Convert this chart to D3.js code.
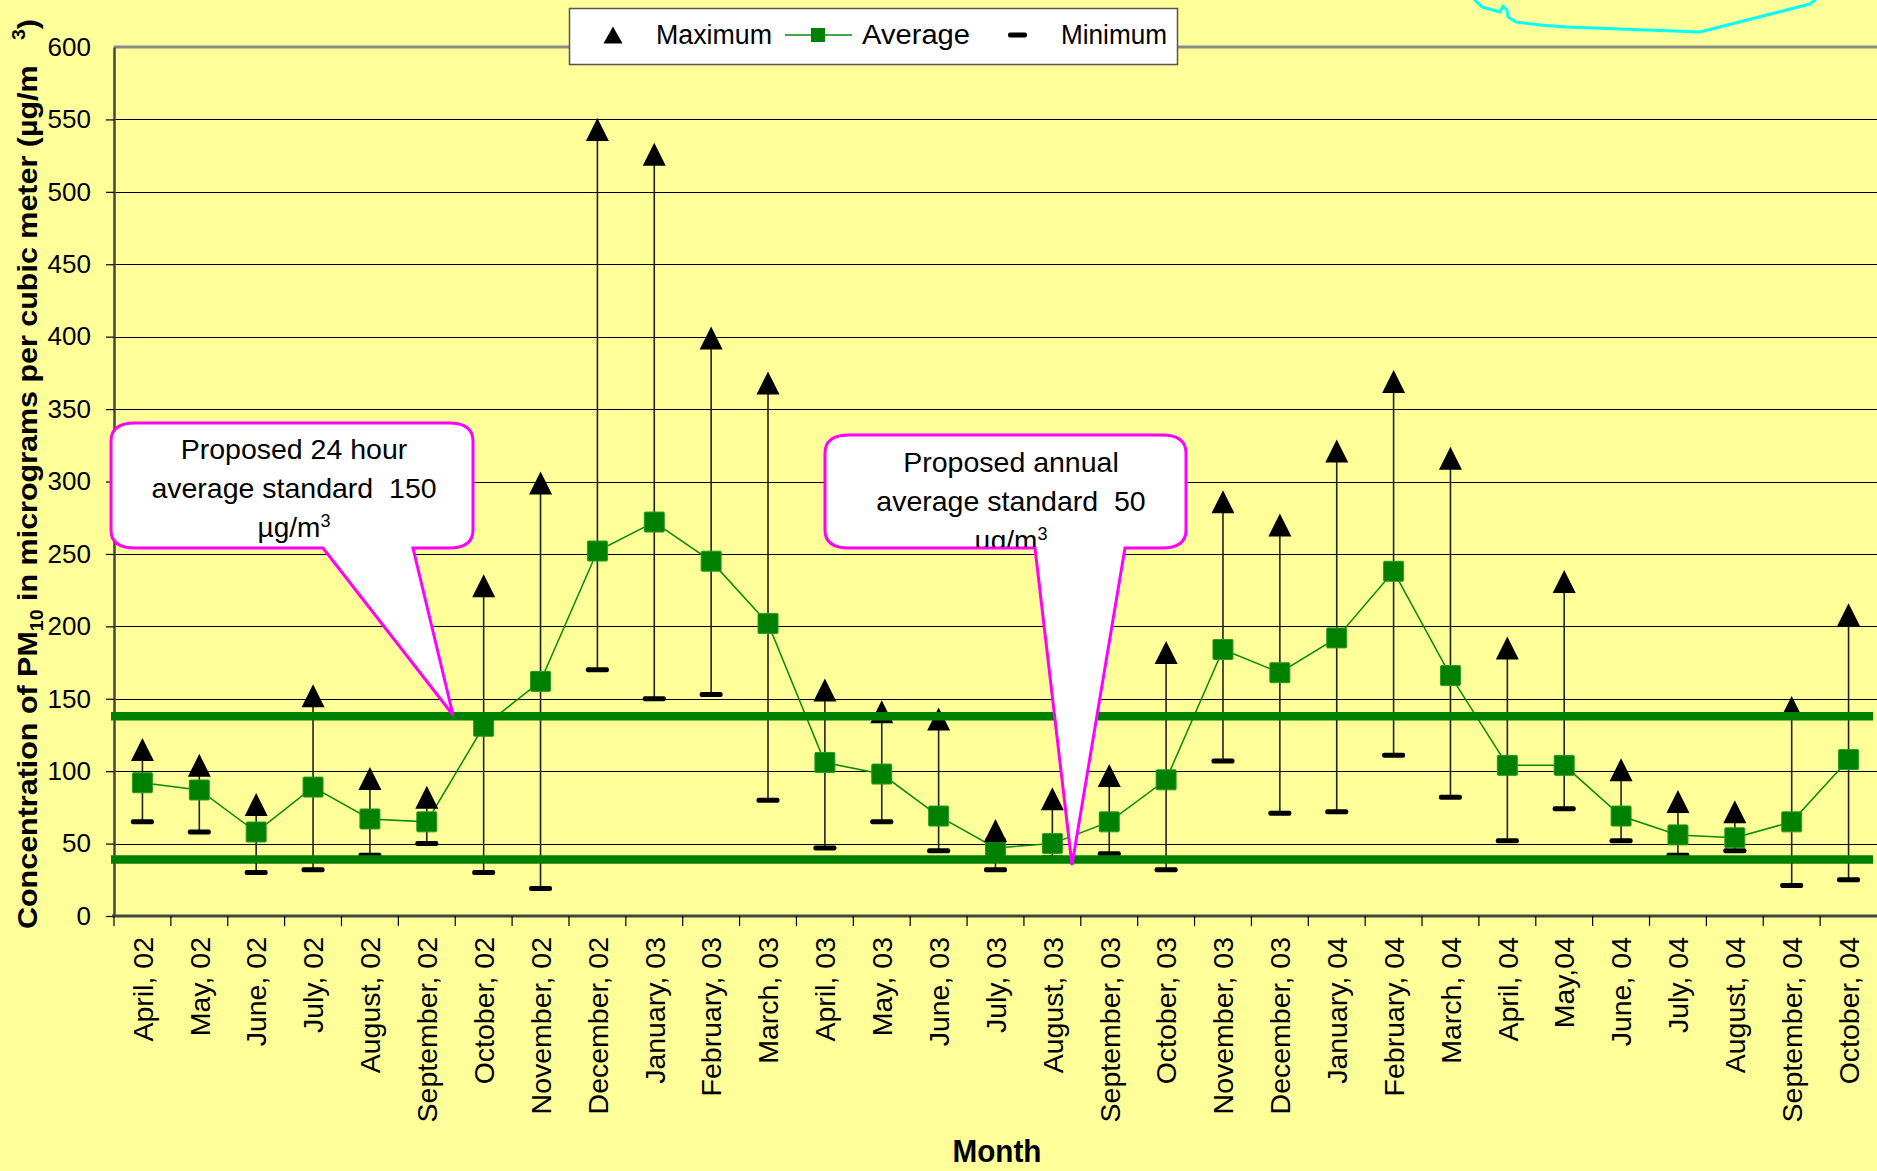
<!DOCTYPE html>
<html>
<head>
<meta charset="utf-8">
<script src="https://cdn.jsdelivr.net/npm/d3@7"></script>
<style>
  html, body { margin: 0; padding: 0; background: #FFFF99; }
  svg { display: block; }
  text { font-family: "Liberation Sans", Arial, sans-serif; fill: #000; }
  .narrow { font-family: "Liberation Sans Narrow", "Arial Narrow", "Liberation Sans", Arial, sans-serif; font-weight: bold; }
</style>
</head>
<body>
<svg id="chart" width="1877" height="1171"></svg>
<script>
// Monthly PM10 concentrations, April 2002 – October 2004 (µg/m³)
const months = [
  "April, 02", "May, 02", "June, 02", "July, 02", "August, 02", "September, 02",
  "October, 02", "November, 02", "December, 02", "January, 03", "February, 03",
  "March, 03", "April, 03", "May, 03", "June, 03", "July, 03", "August, 03",
  "September, 03", "October, 03", "November, 03", "December, 03", "January, 04",
  "February, 04", "March, 04", "April, 04", "May,04", "June, 04", "July, 04",
  "August, 04", "September, 04", "October, 04"
];
const maximum = [115, 104, 77, 152, 95, 82, 228, 299, 543, 526, 399, 368, 156, 141, 136, 59,
                 81, 97, 182, 286, 270, 321, 369, 316, 185, 231, 101, 79, 72, 144, 208];
const average = [92, 87, 58, 89, 67, 65, 131, 162, 252, 272, 245, 202, 106, 98, 69, 47,
                 50, 65, 94, 184, 168, 192, 238, 166, 104, 104, 69, 56, 54, 65, 108];
const minimum = [65, 58, 30, 32, 42, 50, 30, 19, 170, 150, 153, 80, 47, 65, 45, 32,
                 40, 43, 32, 107, 71, 72, 111, 82, 52, 74, 52, 42, 45, 21, 25];
const yTicks = [0, 50, 100, 150, 200, 250, 300, 350, 400, 450, 500, 550, 600];
// reference lines drawn across the plot for the proposed standards
const standardLines = [138, 39];

const W = 1877, H = 1171;
const plot = { left: 114, right: 1877, top: 47, bottom: 916 };
const svg = d3.select("#chart");

const x = d3.scaleBand().domain(months).range([plot.left, plot.right]).padding(0);
const y = d3.scaleLinear().domain([0, 600]).range([plot.bottom, plot.top]);
const cx = d => x(d) + x.bandwidth() / 2;

// background
svg.append("rect").attr("width", W).attr("height", H).attr("fill", "#FFFF99");

// horizontal gridlines
svg.append("g").selectAll("line")
  .data(yTicks.filter(v => v > 0 && v < 600))
  .join("line")
  .attr("x1", plot.left).attr("x2", plot.right)
  .attr("y1", d => Math.round(y(d)) + 0.5).attr("y2", d => Math.round(y(d)) + 0.5)
  .attr("stroke", "#000").attr("stroke-width", 1.2);

// plot-area top border
svg.append("line")
  .attr("x1", plot.left).attr("x2", plot.right)
  .attr("y1", y(600)).attr("y2", y(600))
  .attr("stroke", "#8a8a8a").attr("stroke-width", 3);

// y axis
const yAxis = svg.append("g")
  .attr("transform", `translate(${plot.left},0)`)
  .call(d3.axisLeft(y).tickValues(yTicks).tickSize(8).tickSizeOuter(0).tickPadding(15));
yAxis.select(".domain").attr("stroke", "#444").attr("stroke-width", 2.5);
yAxis.selectAll(".tick line").attr("stroke", "#000").attr("stroke-width", 1.2);
yAxis.selectAll(".tick text")
  .attr("font-family", "'Liberation Sans', Arial, sans-serif")
  .attr("font-size", 26).attr("fill", "#000");
yAxis.select(".tick:last-of-type line").remove();

// x axis line and boundary ticks
svg.append("line")
  .attr("x1", plot.left - 2).attr("x2", plot.right)
  .attr("y1", plot.bottom).attr("y2", plot.bottom)
  .attr("stroke", "#444").attr("stroke-width", 3);
svg.append("g").selectAll("line")
  .data(months)
  .join("line")
  .attr("x1", d => x(d)).attr("x2", d => x(d))
  .attr("y1", plot.bottom).attr("y2", plot.bottom + 10)
  .attr("stroke", "#000").attr("stroke-width", 1.2);

// month labels
svg.append("g").selectAll("text")
  .data(months)
  .join("text")
  .attr("transform", d => `translate(${cx(d)},${plot.bottom + 21}) rotate(-90)`)
  .attr("text-anchor", "end")
  .attr("dy", "0.36em")
  .attr("font-size", 28.5)
  .text(d => d);

// high-low lines
const rows = months.map((m, i) => ({ m, max: maximum[i], avg: average[i], min: minimum[i] }));
svg.append("g").selectAll("line")
  .data(rows)
  .join("line")
  .attr("x1", d => cx(d.m)).attr("x2", d => cx(d.m))
  .attr("y1", d => y(d.max)).attr("y2", d => y(d.min))
  .attr("stroke", "#222").attr("stroke-width", 1.6);

// minimum dashes
svg.append("g").selectAll("rect")
  .data(rows)
  .join("rect")
  .attr("x", d => cx(d.m) - 11.5).attr("y", d => y(d.min) - 2.5)
  .attr("width", 23).attr("height", 5).attr("rx", 2)
  .attr("fill", "#000");

// average line and markers
svg.append("path")
  .datum(rows)
  .attr("d", d3.line().x(d => cx(d.m)).y(d => y(d.avg)))
  .attr("fill", "none").attr("stroke", "#078a07").attr("stroke-width", 1.5);
svg.append("g").selectAll("rect")
  .data(rows)
  .join("rect")
  .attr("x", d => cx(d.m) - 10).attr("y", d => y(d.avg) - 10)
  .attr("width", 20).attr("height", 20).attr("rx", 1)
  .attr("fill", "#008000").attr("stroke", "#2a9a2a").attr("stroke-width", 1);

// maximum triangles
const tri = (px, py, w, h) => `M${px},${py - h / 2}L${px + w / 2},${py + h / 2}L${px - w / 2},${py + h / 2}Z`;
svg.append("g").selectAll("path")
  .data(rows)
  .join("path")
  .attr("d", d => tri(cx(d.m), y(d.max), 23, 23))
  .attr("fill", "#000");

// standard reference lines
svg.append("g").selectAll("line")
  .data(standardLines)
  .join("line")
  .attr("x1", 111).attr("x2", 1873)
  .attr("y1", d => y(d)).attr("y2", d => y(d))
  .attr("stroke", "#008000").attr("stroke-width", 8.5);

// axis titles
const yTitle = svg.append("text")
  .attr("class", "narrow")
  .attr("transform", "translate(37,474) rotate(-90)")
  .attr("text-anchor", "middle")
  .attr("font-size", 28)
  .attr("textLength", 910)
  .attr("lengthAdjust", "spacingAndGlyphs")
  .style("white-space", "pre");
yTitle.append("tspan").text("Concentration of PM");
yTitle.append("tspan").attr("font-size", 18).attr("baseline-shift", "-6").text("10");
yTitle.append("tspan").text(" in micrograms per cubic meter (\u00b5g/m   ");
yTitle.append("tspan").attr("font-size", 18).attr("baseline-shift", "12").text("3");
yTitle.append("tspan").text(")");

svg.append("text")
  .attr("class", "narrow")
  .attr("x", 997).attr("y", 1162)
  .attr("text-anchor", "middle")
  .attr("font-size", 31)
  .attr("textLength", 89)
  .attr("lengthAdjust", "spacingAndGlyphs")
  .text("Month");

// legend
const lg = svg.append("g");
lg.append("rect").attr("x", 569.5).attr("y", 8.5).attr("width", 608).attr("height", 56)
  .attr("fill", "#fff").attr("stroke", "#555").attr("stroke-width", 1.5);
lg.append("path").attr("d", tri(613, 35, 19, 17)).attr("fill", "#000");
lg.append("text").attr("x", 656).attr("y", 44).attr("font-size", 27)
  .attr("textLength", 116).attr("lengthAdjust", "spacingAndGlyphs").text("Maximum");
lg.append("line").attr("x1", 785).attr("x2", 852).attr("y1", 35).attr("y2", 35)
  .attr("stroke", "#078a07").attr("stroke-width", 1.5);
lg.append("rect").attr("x", 811).attr("y", 28).attr("width", 14).attr("height", 14)
  .attr("fill", "#008000");
lg.append("text").attr("x", 862).attr("y", 44).attr("font-size", 27)
  .attr("textLength", 108).attr("lengthAdjust", "spacingAndGlyphs").text("Average");
lg.append("rect").attr("x", 1008).attr("y", 32.5).attr("width", 19).attr("height", 5).attr("rx", 2)
  .attr("fill", "#000");
lg.append("text").attr("x", 1061).attr("y", 44).attr("font-size", 27)
  .attr("textLength", 106).attr("lengthAdjust", "spacingAndGlyphs").text("Minimum");

// callouts for the proposed standards
function calloutPath(c) {
  const { x1, y1, x2, y2, rx, ry, b1, b2, tx, ty } = c;
  return `M${x1 + rx},${y1}H${x2 - rx}Q${x2},${y1} ${x2},${y1 + ry}V${y2 - ry}Q${x2},${y2} ${x2 - rx},${y2}` +
         `H${b2}L${tx},${ty}L${b1},${y2}H${x1 + rx}Q${x1},${y2} ${x1},${y2 - ry}V${y1 + ry}Q${x1},${y1} ${x1 + rx},${y1}Z`;
}
const callouts = [
  { id: "c1", x1: 111, y1: 423, x2: 473, y2: 548, rx: 24, ry: 18, b1: 323, b2: 413, tx: 453, ty: 715,
    cxText: 294, lines: ["Proposed 24 hour", "average standard  150"], base: 459, step: 39 },
  { id: "c2", x1: 825, y1: 435, x2: 1186, y2: 548, rx: 24, ry: 18, b1: 1035, b2: 1125, tx: 1072, ty: 865,
    cxText: 1011, lines: ["Proposed annual", "average standard  50"], base: 472, step: 39 }
];
const defs = svg.append("defs");
callouts.forEach(c => {
  defs.append("clipPath").attr("id", "clip-" + c.id)
    .append("rect").attr("x", c.x1).attr("y", c.y1).attr("width", c.x2 - c.x1).attr("height", c.y2 - c.y1 - 1);
  const g = svg.append("g");
  g.append("path").attr("d", calloutPath(c))
    .attr("fill", "#fff").attr("stroke", "#FF00FF").attr("stroke-width", 3).attr("stroke-linejoin", "miter");
  const tg = g.append("g").attr("clip-path", `url(#clip-${c.id})`);
  c.lines.forEach((t, i) => {
    tg.append("text").attr("x", c.cxText).attr("y", c.base + i * c.step)
      .attr("text-anchor", "middle").attr("font-size", 28.5).style("white-space", "pre").text(t);
  });
  const unit = tg.append("text").attr("x", c.cxText).attr("y", c.base + 2 * c.step)
    .attr("text-anchor", "middle").attr("font-size", 28);
  unit.append("tspan").text("\u00b5g/m");
  unit.append("tspan").attr("font-size", 18).attr("baseline-shift", "10").text("3");
});

// freehand outline at the top right
const sketch = [[1475, 0], [1482, 7], [1500, 12], [1503, 6], [1507, 10], [1508, 17], [1516, 22],
                [1540, 25], [1567, 27], [1620, 29], [1700, 32], [1810, 4], [1815, 0]];
svg.append("path")
  .attr("d", d3.line()(sketch))
  .attr("fill", "none").attr("stroke", "#00FFFF").attr("stroke-width", 3)
  .attr("stroke-linejoin", "round").attr("stroke-linecap", "round");
</script>
</body>
</html>
